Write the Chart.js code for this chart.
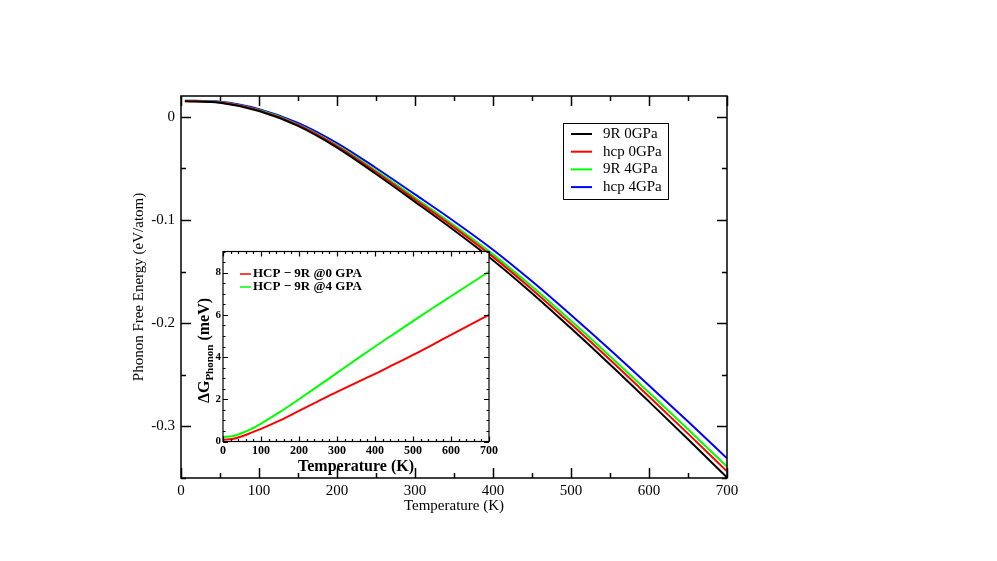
<!DOCTYPE html>
<html><head><meta charset="utf-8">
<script src="https://cdn.jsdelivr.net/npm/chart.js@4.4.1/dist/chart.umd.min.js"></script>
<style>
html,body{margin:0;padding:0;background:#fff;}
#wrap{position:relative;width:997px;height:561px;background:#fff;}
#main{position:absolute;left:0;top:0;}
#inset{position:absolute;left:150px;top:240px;}
</style></head><body>
<div id="wrap">
<canvas id="main" width="997" height="561"></canvas>
<canvas id="inset" width="350" height="240"></canvas>
</div>
<script>
// ---- main chart data (eV/atom) ----
const temperatures = [5, 50, 100, 150, 200, 250, 300, 350, 400, 450, 500, 550, 600, 650, 700];
const f9R0GPa  = [0.0150, 0.0135, 0.0055, -0.0090, -0.0300, -0.0555, -0.0825, -0.1100, -0.1390, -0.1710, -0.2050, -0.2400, -0.2760, -0.3125, -0.3495];
const fHcp0GPa = [0.0151, 0.0138, 0.0061, -0.0080, -0.0285, -0.0536, -0.0802, -0.1072, -0.1358, -0.1674, -0.2009, -0.2354, -0.2710, -0.3070, -0.3435];
const f9R4GPa  = [0.0153, 0.0140, 0.0064, -0.0074, -0.0276, -0.0523, -0.0785, -0.1052, -0.1334, -0.1646, -0.1978, -0.2320, -0.2672, -0.3028, -0.3390];
const fHcp4GPa = [0.0155, 0.0144, 0.0073, -0.0060, -0.0256, -0.0497, -0.0753, -0.1013, -0.1289, -0.1595, -0.1921, -0.2257, -0.2603, -0.2953, -0.3310];
const seriesLabels = ['9R 0GPa', 'hcp 0GPa', '9R 4GPa', 'hcp 4GPa'];
const seriesColors = ['#000000', '#ff0000', '#00ff00', '#0000ff'];
const mainXTicks = [0, 100, 200, 300, 400, 500, 600, 700];
const mainYTicks = [0, -0.1, -0.2, -0.3];

// ---- inset data (meV) ----
const insetTemperatures = [0, 25, 50, 75, 100, 150, 200, 250, 300, 350, 400, 450, 500, 550, 600, 650, 700];
const dG0GPa = [0.08, 0.12, 0.25, 0.42, 0.60, 1.00, 1.45, 1.90, 2.35, 2.78, 3.20, 3.65, 4.10, 4.57, 5.05, 5.52, 6.00];
const dG4GPa = [0.22, 0.25, 0.40, 0.60, 0.85, 1.40, 2.00, 2.62, 3.25, 3.88, 4.50, 5.10, 5.70, 6.30, 6.88, 7.46, 8.05];
const insetLabels = ['HCP \u2212 9R @0 GPA', 'HCP \u2212 9R @4 GPA'];
const insetColors = ['#ff0000', '#00ff00'];
const insetXTicks = [0, 100, 200, 300, 400, 500, 600, 700];
const insetYTicks = [0, 2, 4, 6, 8];

const SERIF = "'Liberation Serif', 'Times New Roman', serif";
Chart.defaults.font.family = SERIF;
Chart.defaults.color = '#000';

function toPts(xs, ys) { return xs.map((x, i) => ({x: x, y: ys[i]})); }

function framePlugin(id, cfg) {
  return {
    id: id,
    beforeDraw(chart) {
      if (!cfg.fill) return;
      const {ctx, chartArea: a} = chart;
      ctx.save(); ctx.fillStyle = '#fff';
      ctx.fillRect(a.left, a.top, a.right - a.left, a.bottom - a.top);
      ctx.restore();
    },
    afterDraw(chart) {
      const {ctx, chartArea: a, scales: {x, y}} = chart;
      ctx.save();
      ctx.strokeStyle = '#000';
      ctx.lineWidth = cfg.lw;
      ctx.beginPath();
      const near = (v, s) => Math.abs(v / s - Math.round(v / s)) < 1e-6;
      for (let k = Math.ceil(x.min / cfg.xMinor - 1e-9); k * cfg.xMinor <= x.max + 1e-9; k++) {
        const v = k * cfg.xMinor;
        const px = Math.round(x.getPixelForValue(v)) + 0.5;
        const len = near(v, cfg.xMajor) ? cfg.major : cfg.minor;
        ctx.moveTo(px, a.bottom); ctx.lineTo(px, a.bottom - len);
        ctx.moveTo(px, a.top); ctx.lineTo(px, a.top + len);
      }
      for (let k = Math.ceil(y.min / cfg.yMinor - 1e-9); k * cfg.yMinor <= y.max + 1e-9; k++) {
        const v = k * cfg.yMinor;
        const py = Math.round(y.getPixelForValue(v)) + 0.5;
        const len = near(v, cfg.yMajor) ? cfg.major : cfg.minor;
        ctx.moveTo(a.left, py); ctx.lineTo(a.left + len, py);
        ctx.moveTo(a.right, py); ctx.lineTo(a.right - len, py);
      }
      ctx.stroke();
      ctx.strokeRect(a.left, a.top, a.right - a.left, a.bottom - a.top);
      ctx.restore();
    }
  };
}

const mainLegend = {
  id: 'mainLegend',
  afterDraw(chart) {
    const ctx = chart.ctx;
    const a = chart.chartArea;
    const bx = a.right - 164, by = a.top + 27, bw = 105, bh = 76;
    ctx.save();
    ctx.fillStyle = '#fff';
    ctx.fillRect(bx, by, bw, bh);
    ctx.strokeStyle = '#000'; ctx.lineWidth = 1;
    ctx.strokeRect(bx + 0.5, by + 0.5, bw, bh);
    ctx.font = '15px ' + SERIF;
    ctx.textBaseline = 'middle';
    chart.data.datasets.forEach((ds, i) => {
      const yy = by + 11 + i * 17.7;
      ctx.strokeStyle = ds.borderColor; ctx.lineWidth = 2;
      ctx.beginPath(); ctx.moveTo(bx + 8, yy); ctx.lineTo(bx + 29, yy); ctx.stroke();
      ctx.fillStyle = '#000';
      ctx.fillText(ds.label, bx + 40, yy);
    });
    ctx.restore();
  }
};

const insetDecor = {
  id: 'insetDecor',
  afterDraw(chart) {
    const ctx = chart.ctx;
    const a = chart.chartArea;
    ctx.save();
    // legend
    ctx.font = 'bold 13px ' + SERIF;
    ctx.textBaseline = 'middle';
    chart.data.datasets.forEach((ds, i) => {
      const yy = a.top + 22.5 + i * 13;
      ctx.strokeStyle = ds.borderColor; ctx.lineWidth = 1.5;
      ctx.beginPath(); ctx.moveTo(a.left + 17, yy); ctx.lineTo(a.left + 28, yy); ctx.stroke();
      ctx.fillStyle = '#000';
      ctx.fillText(ds.label, a.left + 30, yy);
    });
    // y-axis title with subscript
    const cx = 54, cy = (a.top + a.bottom) / 2 + 4;
    const big = 'bold 16px ' + SERIF, small = 'bold 11px ' + SERIF;
    ctx.font = big; const w1 = ctx.measureText('\u0394G').width;
    ctx.font = small; const w2 = ctx.measureText('Phonon').width;
    ctx.font = big; const w3 = ctx.measureText(' (meV)').width;
    const total = w1 + w2 + w3;
    ctx.translate(cx, cy);
    ctx.rotate(-Math.PI / 2);
    ctx.textBaseline = 'alphabetic';
    ctx.fillStyle = '#000';
    let xx = -total / 2;
    ctx.font = big; ctx.fillText('\u0394G', xx, 5); xx += w1;
    ctx.font = small; ctx.fillText('Phonon', xx, 8.5); xx += w2;
    ctx.font = big; ctx.fillText(' (meV)', xx, 5);
    ctx.restore();
  }
};

new Chart(document.getElementById('main'), {
  type: 'line',
  data: {
    datasets: [
      {label: seriesLabels[0], data: toPts(temperatures, f9R0GPa), borderColor: seriesColors[0]},
      {label: seriesLabels[1], data: toPts(temperatures, fHcp0GPa), borderColor: seriesColors[1]},
      {label: seriesLabels[2], data: toPts(temperatures, f9R4GPa), borderColor: seriesColors[2]},
      {label: seriesLabels[3], data: toPts(temperatures, fHcp4GPa), borderColor: seriesColors[3]}
    ]
  },
  options: {
    responsive: false,
    animation: false,
    parsing: false,
    elements: {
      point: {radius: 0},
      line: {borderWidth: 2, cubicInterpolationMode: 'monotone', fill: false}
    },
    layout: {padding: {left: 120, right: 270, top: 96, bottom: 40}},
    plugins: {legend: {display: false}, tooltip: {enabled: false}},
    scales: {
      x: {
        type: 'linear', min: 0, max: 700,
        afterBuildTicks: s => { s.ticks = mainXTicks.map(v => ({value: v})); },
        afterFit: s => { s.height = 43; },
        grid: {display: false, drawTicks: false},
        border: {display: false},
        ticks: {font: {size: 15}, color: '#000', padding: 4, maxRotation: 0, autoSkip: false},
        title: {display: true, text: 'Temperature (K)', font: {size: 15}, color: '#000', padding: {top: 0, bottom: 6}}
      },
      y: {
        type: 'linear', min: -0.35, max: 0.02,
        afterBuildTicks: s => { s.ticks = mainYTicks.map(v => ({value: v})); },
        afterFit: s => { s.width = 61; },
        grid: {display: false, drawTicks: false},
        border: {display: false},
        ticks: {font: {size: 15}, color: '#000', padding: 6, autoSkip: false,
                callback: v => (Math.abs(v) < 1e-9 ? '0' : v.toFixed(1))},
        title: {display: true, text: 'Phonon Free Energy (eV/atom)', font: {size: 15}, color: '#000', padding: {top: 10, bottom: 0}}
      }
    }
  },
  plugins: [framePlugin('mainFrame', {lw: 1.5, xMinor: 50, xMajor: 100, yMinor: 0.05, yMajor: 0.1, major: 10, minor: 5, fill: false}), mainLegend]
});

new Chart(document.getElementById('inset'), {
  type: 'line',
  data: {
    datasets: [
      {label: insetLabels[0], data: toPts(insetTemperatures, dG0GPa), borderColor: insetColors[0]},
      {label: insetLabels[1], data: toPts(insetTemperatures, dG4GPa), borderColor: insetColors[1]}
    ]
  },
  options: {
    responsive: false,
    animation: false,
    parsing: false,
    elements: {
      point: {radius: 0},
      line: {borderWidth: 2, cubicInterpolationMode: 'monotone', fill: false}
    },
    layout: {padding: {left: 0, right: 11, top: 11.5, bottom: 2}},
    plugins: {legend: {display: false}, tooltip: {enabled: false}},
    scales: {
      x: {
        type: 'linear', min: 0, max: 700,
        afterBuildTicks: s => { s.ticks = insetXTicks.map(v => ({value: v})); },
        afterFit: s => { s.height = 36.5; },
        grid: {display: false, drawTicks: false},
        border: {display: false},
        ticks: {font: {size: 12, weight: 'bold'}, color: '#000', padding: 2, maxRotation: 0, autoSkip: false},
        title: {display: true, text: 'Temperature (K)', font: {size: 16, weight: 'bold'}, color: '#000', padding: {top: 0, bottom: 2}}
      },
      y: {
        type: 'linear', min: 0, max: 9,
        afterBuildTicks: s => { s.ticks = insetYTicks.map(v => ({value: v})); },
        afterFit: s => { s.width = 73; },
        grid: {display: false, drawTicks: false},
        border: {display: false},
        ticks: {font: {size: 11, weight: 'bold'}, color: '#000', padding: 2, autoSkip: false},
        title: {display: false}
      }
    }
  },
  plugins: [framePlugin('insetFrame', {lw: 1.2, xMinor: 20, xMajor: 100, yMinor: 0.5, yMajor: 2, major: 5, minor: 2.5, fill: true}), insetDecor]
});
</script>
</body></html>
